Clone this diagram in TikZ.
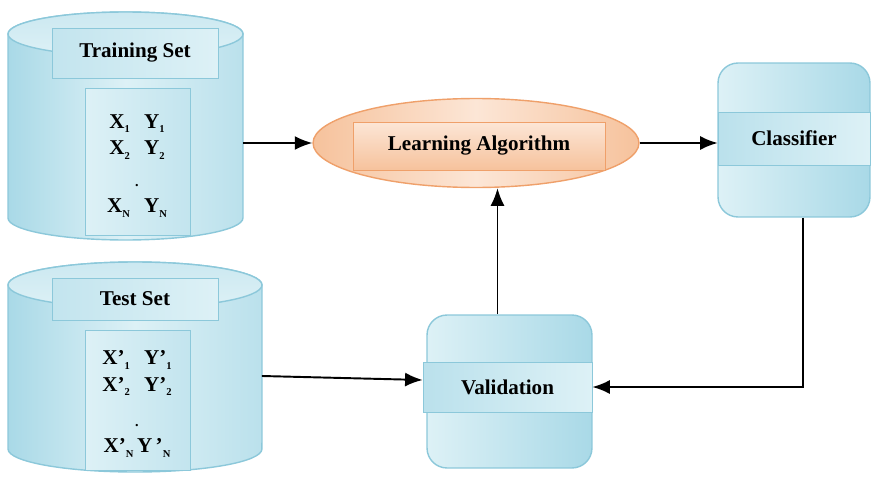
\documentclass[tikz,border=0pt]{standalone}
\usepackage{fontspec}
\setmainfont{Liberation Serif}
\usetikzlibrary{arrows.meta,shapes.geometric}
\definecolor{cylblue}{HTML}{A9D9E7}
\definecolor{cyllight}{HTML}{DDF1F6}
\definecolor{cyledge}{HTML}{8CC8DA}
\definecolor{peach}{HTML}{F6C29C}
\definecolor{peachlight}{HTML}{FCE6D6}
\definecolor{peachedge}{HTML}{EFA06A}
\newcommand{\dsub}[1]{\raisebox{-0.45ex}{\fontsize{6}{6}\selectfont #1}}
\tikzstyle{dbody} = [draw=cyledge, thick, left color=cylblue, right color=cylblue!80, middle color=cyllight]
\tikzstyle{dtop} = [draw=cyledge, thick, top color=cylblue!60, bottom color=cyllight]
\tikzstyle{lblbox} = [draw=cyledge, thin, rectangle, left color=cylblue!70, right color=cyllight, font=\bfseries\fontsize{12}{14}\selectfont]
\tikzstyle{databox} = [draw=cyledge, thin, rectangle, left color=cyllight, right color=cylblue!70]
\tikzstyle{datatext} = [align=center, font=\bfseries\fontsize{12}{14}\selectfont]
\tikzstyle{stagebox} = [draw=cyledge, thick, rectangle, rounded corners=0.4cm, left color=cyllight, right color=cylblue]
\tikzstyle{band} = [draw=cyledge, thin, rectangle, left color=cylblue!80, right color=cyllight, font=\bfseries\fontsize{12}{14}\selectfont]
\tikzstyle{flow} = [-{Latex[length=10pt,width=8pt]}, line width=1.1pt]

\begin{document}
\begin{tikzpicture}[x=0.02cm, y=-0.02cm]
\useasboundingbox (0,0) rectangle (873,480);
% training data
\path [dbody] (8,34) -- (8,218) arc[start angle=180, end angle=360, x radius=2.35cm, y radius=0.44cm]
    -- (243,34) arc[start angle=0, end angle=180, x radius=2.35cm, y radius=0.44cm] -- cycle;
\path [dtop] (125.5,34) ellipse [x radius=2.35cm, y radius=0.44cm];
\node [minimum width=4.7cm, minimum height=4.56cm, outer sep=0pt] (train) at (125.5,126) {};
\node [lblbox, minimum width=3.32cm, minimum height=1cm] (trainlbl) at (135,53) {Training Set};
\node [databox, minimum width=2.1cm, minimum height=2.94cm] (traindata) at (137.5,161.5) {};
\node [datatext] (traintxt) at (137,166) {X\dsub{1}\hspace{8pt}Y\dsub{1}\\[1pt]
    X\dsub{2}\hspace{8pt}Y\dsub{2}\\[4pt] {\fontsize{8}{8}\selectfont .}\\[1pt] X\dsub{N}\hspace{8pt}Y\dsub{N}};
% test data
\path [dbody] (8,285) -- (8,449) arc[start angle=180, end angle=360, x radius=2.54cm, y radius=0.46cm]
    -- (262,285) arc[start angle=0, end angle=180, x radius=2.54cm, y radius=0.46cm] -- cycle;
\path [dtop] (135,285) ellipse [x radius=2.54cm, y radius=0.46cm];
\node [minimum width=5.08cm, minimum height=4.2cm, outer sep=0pt] (test) at (135,367) {};
\node [lblbox, minimum width=3.32cm, minimum height=0.84cm] (testlbl) at (135,299) {Test Set};
\node [databox, minimum width=2.1cm, minimum height=2.8cm] (testdata) at (137.5,400) {};
\node [datatext] (testtxt) at (137,404) {X'\dsub{1}\hspace{8pt}Y'\dsub{1}\\[1pt]
    X'\dsub{2}\hspace{8pt}Y'\dsub{2}\\[6pt] {\fontsize{8}{8}\selectfont .}\\[1pt] X'\dsub{N}\,Y\,'\dsub{N}};
% learning algorithm
\node [ellipse, draw=peachedge, thick, minimum width=6.52cm, minimum height=1.78cm, left color=peach, right color=peach, middle color=peachlight] (learn) at (476,143) {};
\node [rectangle, draw=peachedge, thin, minimum width=5.04cm, minimum height=0.96cm, top color=peachlight, bottom color=peach, font=\bfseries\fontsize{12}{14}\selectfont] (learnlbl) at (479,146) {Learning Algorithm};
% classifier
\node [stagebox, minimum width=3.04cm, minimum height=3.08cm] (classifier) at (794,140) {};
\node [band, minimum width=3.04cm, minimum height=1.06cm] (classband) at (794,138.5) {Classifier};
% validation
\node [stagebox, minimum width=3.3cm, minimum height=3.06cm] (valid) at (509.5,391.5) {};
\node [band, minimum width=3.38cm, minimum height=1cm] (validband) at (507.5,387) {Validation};
% connectors
\draw [flow] (train.east |- learn.west) -- (learn.west);
\draw [flow] (learn.east) -- (learn.east -| classband.west);
\draw [flow] ([xshift=0.18cm]classifier.south) |- (validband.east);
\draw [flow] ([yshift=-0.18cm]test.east) -- ([yshift=0.14cm]validband.west);
\draw [flow] ([xshift=-0.24cm]valid.north) -- ([xshift=-0.24cm]valid.north |- learn.south);
\end{tikzpicture}
\end{document}
